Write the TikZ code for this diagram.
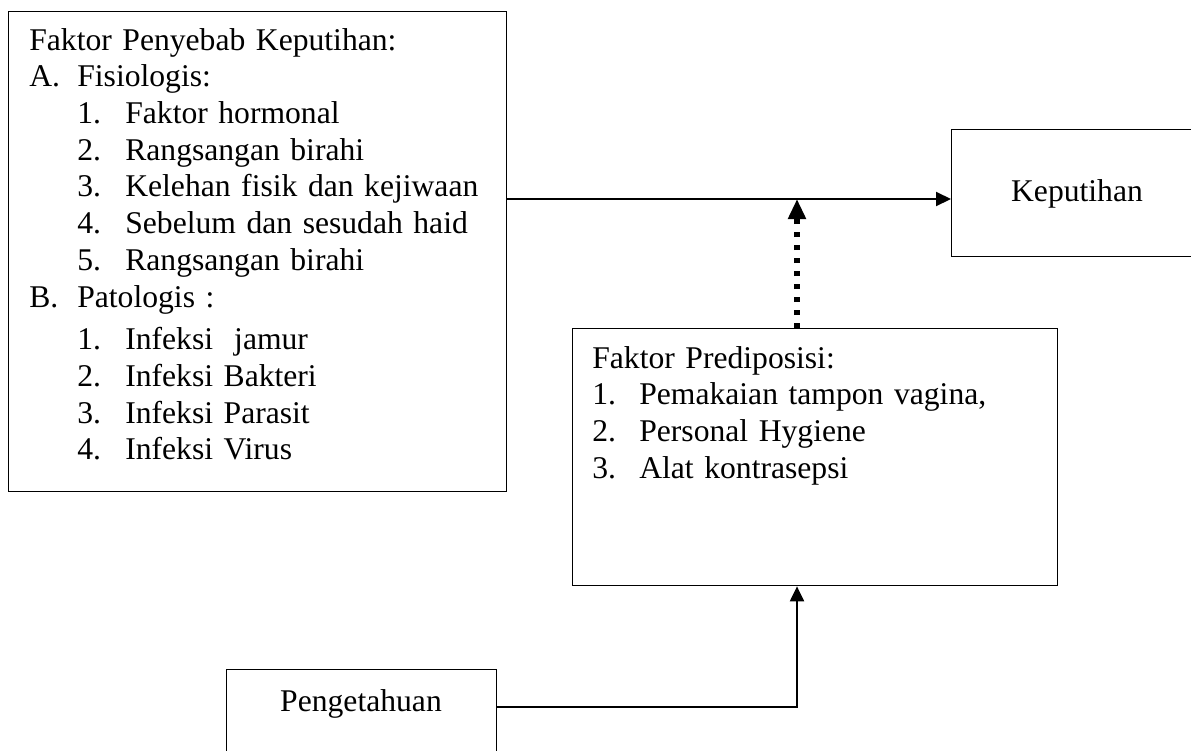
\documentclass[tikz,border=0pt]{standalone}
\usepackage{fontspec}
\setmainfont{Liberation Serif}
\usepackage{tikz}
\usetikzlibrary{arrows.meta, positioning}
\tikzset {
    x=0.02cm, y=-0.02cm,
    >={Triangle[length=0.3cm, width=0.28cm]},
    box/.style={draw, line width=0.8pt, inner sep=0pt, anchor=north west},
    txt/.style={inner sep=0pt, font=\fontsize{18}{20.9}\selectfont},
    arr/.style={->, line width=1.2pt},
    dotarr/.style={-{Triangle[length=0.4cm, width=0.34cm]}, line width=3.2pt,
        dash pattern=on 0.1cm off 0.16cm}
}
\newcommand{\lbl}[2]{\makebox[0.96cm][l]{#1}#2}
\newcommand{\sub}{\hspace*{0.96cm}}

\begin{document}
\begin{tikzpicture}
    \useasboundingbox (0,0) rectangle (1191,751);

    % boxes
    \node[box, minimum width=9.96cm, minimum height=9.6cm] (penyebab) at (8,11) {};
    \node[box, minimum width=5.04cm, minimum height=2.54cm] (keputihan) at (951,129) {};
    \node[box, minimum width=9.7cm, minimum height=5.14cm] (prediposisi) at (572,328) {};
    \node[box, minimum width=5.4cm, minimum height=2.4cm] (pengetahuan) at (226,669) {};

    % texts
    \node[txt, anchor=base west, text width=9.4cm, align=left] (penyebabtxt) at (29,50) {%
        Faktor Penyebab Keputihan:\\
        \lbl{A.}{Fisiologis:}\\
        \sub\lbl{1.}{Faktor hormonal}\\
        \sub\lbl{2.}{Rangsangan birahi}\\
        \sub\lbl{3.}{Kelehan fisik dan kejiwaan}\\
        \sub\lbl{4.}{Sebelum dan sesudah haid}\\
        \sub\lbl{5.}{Rangsangan birahi}\\
        \lbl{B.}{Patologis :}\\[0.12cm]
        \sub\lbl{1.}{Infeksi\ \ jamur}\\
        \sub\lbl{2.}{Infeksi Bakteri}\\
        \sub\lbl{3.}{Infeksi Parasit}\\
        \sub\lbl{4.}{Infeksi Virus}};
    \node[txt, anchor=base] (keputihantxt) at (1077,201) {Keputihan};
    \node[txt, anchor=base west, text width=9.2cm, align=left] (prediposisitxt) at (592,368) {%
        Faktor Prediposisi:\\
        \makebox[0.94cm][l]{1.}Pemakaian tampon vagina,\\
        \makebox[0.94cm][l]{2.}Personal Hygiene\\
        \makebox[0.94cm][l]{3.}Alat kontrasepsi};
    \node[txt, anchor=base] (pengetahuantxt) at (361,711) {Pengetahuan};

    % connectors
    \coordinate (meet) at (797,199);
    \coordinate (bend) at (797,707);
    \draw[arr] (penyebab.east |- meet) -- (keputihan.west |- meet);
    \draw[dotarr] (meet |- prediposisi.north) -- (meet);
    \draw[arr] (pengetahuan.east |- bend) -- (bend) -- (bend |- prediposisi.south);
\end{tikzpicture}
\end{document}
